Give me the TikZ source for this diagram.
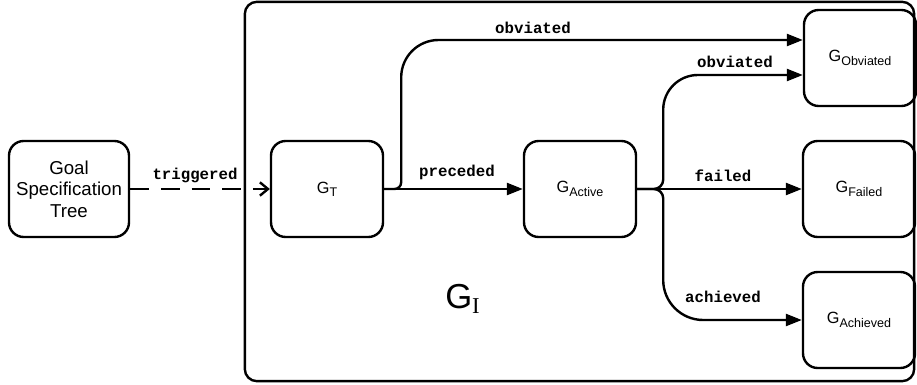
\documentclass[tikz,border=0pt]{standalone}
\usepackage{fontspec}
\setmainfont{Liberation Sans}
\newfontfamily\labelfont{Liberation Mono}
\newfontfamily\seriffont{Liberation Serif}
\usetikzlibrary{arrows.meta}
\newcommand\gsub[1]{\raisebox{-2.5pt}{\fontsize{9.4}{10}\selectfont #1}}
\begin{document}
\begin{tikzpicture}[x=0.75pt,y=-0.75pt,
    state/.style = {draw, line width=1.8pt, rounded corners=11pt,
      minimum width=84pt, minimum height=72pt, inner sep=0pt,
      align=center, font=\fontsize{12.2}{14}\selectfont},
    flow/.style = {line width=1.8pt, -{Triangle[length=12pt,width=9pt]}},
    lbl/.style = {inner sep=0pt, font=\labelfont\bfseries\fontsize{11.8}{12}\selectfont}]
    \useasboundingbox (0,0) rectangle (917,385);
    % container
    \node[draw, line width=1.8pt, rounded corners=9pt, minimum width=502pt,
      minimum height=284.5pt] (GI) at (579.5,191.5) {};
    \node[anchor=base west, inner sep=0pt] (GIname) at (445,308)
      {\fontsize{26}{26}\selectfont G\raisebox{-3.75pt}{\seriffont\fontsize{17}{17}\selectfont I}};
    % states
    \node[state, minimum width=90pt, font=\fontsize{14}{16}\selectfont] (GST) at (69,189)
      {Goal\\Specification\\Tree};
    \node[state] (GT) at (327,189) {G\gsub{T}};
    \node[state] (GA) at (580,189) {G\gsub{Active}};
    \node[state] (GO) at (860,58) {G\gsub{Obviated}};
    \node[state] (GF) at (859,189) {G\gsub{Failed}};
    \node[state] (GAch) at (859,320) {G\gsub{Achieved}};
    % transitions
    \draw[line width=1.8pt, dash pattern=on 14pt off 9pt,
      -{Straight Barb[length=6pt,width=10pt]}] (GST) -- (GT);
    \draw[flow] (GT) -- (GA);
    \draw[flow] (GT.east) [rounded corners=5pt] -- ++(17,0)
      [rounded corners=28pt] |- ([yshift=13.5pt]GO.west);
    \draw[flow] (GA.east) [rounded corners=7pt] -- ++(26,0)
      [rounded corners=26pt] |- ([yshift=-12.75pt]GO.west);
    \draw[flow] (GA) -- (GF);
    \draw[flow] (GA.east) [rounded corners=7pt] -- ++(26,0)
      [rounded corners=30pt] |- (GAch.west);
    % labels
    \node[lbl] (ltrig) at (195,175) {triggered};
    \node[lbl] (lprec) at (457,172) {preceded};
    \node[lbl] (lobv1) at (533,28) {obviated};
    \node[lbl] (lobv2) at (735,62) {obviated};
    \node[lbl] (lfail) at (723,176) {failed};
    \node[lbl] (lach) at (723,297) {achieved};
\end{tikzpicture}
\end{document}
